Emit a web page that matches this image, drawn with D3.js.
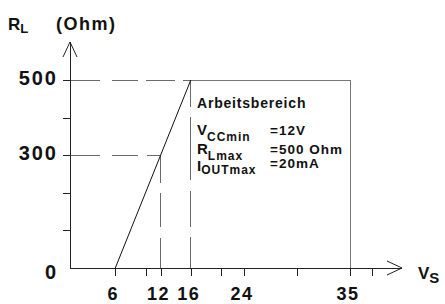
<!DOCTYPE html>
<html>
<head>
<meta charset="utf-8">
<script src="https://cdn.jsdelivr.net/npm/d3@7"></script>
<style>
  body { margin: 0; background: #fff; }
  svg { display: block; font-family: "Liberation Sans", Arial, sans-serif; font-weight: bold; }
</style>
</head>
<body>
<div id="chart"></div>
<script>
// Data
const labeledV = [6, 12, 16, 24, 35];
const minorV = [10, 20, 30, 40];
const labeledR = [300, 500];
const minorR = [100, 200, 400];
const lineV = [6, 12, 16];
const lineR = [0, 300, 500];
const vsMax = 35;
const infoNames = ['V', 'R', 'I'];
const infoSubs = ['CCmin', 'Lmax', 'OUTmax'];
const infoValues = ['=12V', '=500 Ohm', '=20mA'];

const width = 445, height = 304;
const svg = d3.select('#chart').append('svg')
  .attr('width', width).attr('height', height);

// the drawing is not to scale above 20 V, so a piecewise scale
const x = d3.scaleLinear()
  .domain([0, 20, 24, 30, 35, 40])
  .range([70, 221, 244, 297, 350, 372]);
const y = d3.scaleLinear().domain([0, 500]).range([268, 80]);

const axisCol = '#222', dashCol = '#6a6a6a';

// working area box + dashed guides
const g = svg.append('g').attr('shape-rendering', 'crispEdges').attr('fill', 'none');
g.append('path')
  .attr('d', `M${x(16)},${y(500)}H${x(vsMax)}V${y(0)}`)
  .attr('stroke', '#777');
g.append('line')
  .attr('x1', x(0) - 7).attr('x2', x(16)).attr('y1', y(500)).attr('y2', y(500))
  .attr('stroke', dashCol).attr('stroke-dasharray', '37,12,26,8,29,8,9');
g.append('line')
  .attr('x1', x(0) - 7).attr('x2', x(12)).attr('y1', y(300)).attr('y2', y(300))
  .attr('stroke', dashCol).attr('stroke-dasharray', '37,12,26,9,14');
g.append('line')
  .attr('x1', x(12)).attr('x2', x(12)).attr('y1', y(300)).attr('y2', y(0))
  .attr('stroke', dashCol).attr('stroke-dasharray', '28,10,34,11,30');
g.append('line')
  .attr('x1', x(16)).attr('x2', x(16)).attr('y1', y(500)).attr('y2', y(0))
  .attr('stroke', dashCol).attr('stroke-dasharray', '27,10,63,11,36,10,31');

// axes (ticks via d3 axis, lines + arrows drawn)
const xAxis = svg.append('g').attr('transform', `translate(0,${y(0)})`)
  .call(d3.axisBottom(x).tickValues(labeledV.concat(minorV)).tickSize(8).tickFormat(''));
const yAxis = svg.append('g').attr('transform', `translate(${x(0)},0)`)
  .call(d3.axisLeft(y).tickValues(labeledR.concat(minorR)).tickSize(7).tickFormat(''));
[xAxis, yAxis].forEach(a => {
  a.select('.domain').remove();
  a.selectAll('line').attr('stroke', axisCol).attr('shape-rendering', 'crispEdges');
});

const ax = svg.append('g').attr('stroke', axisCol).attr('fill', 'none');
ax.append('path').attr('d', `M${x(0)},${y(0)}H402`).attr('shape-rendering', 'crispEdges');
ax.append('path').attr('d', `M387,${y(0) - 7}L402,${y(0)}L387,${y(0) + 7}`);
ax.append('path').attr('d', `M${x(0)},${y(0)}V42`).attr('shape-rendering', 'crispEdges');
ax.append('path').attr('d', `M${x(0) - 7},57L${x(0)},42L${x(0) + 7},57`);

// R_L over V_S characteristic
svg.append('path')
  .datum(d3.zip(lineV, lineR))
  .attr('d', d3.line().x(d => x(d[0])).y(d => y(d[1])))
  .attr('fill', 'none').attr('stroke', '#111').attr('stroke-width', 1);

// tick labels
svg.append('g').selectAll('text').data(labeledV).join('text')
  .attr('x', d => x(d) - 2).attr('y', 300)
  .attr('text-anchor', 'middle')
  .style('font-size', '18px').style('letter-spacing', '1.5px')
  .attr('fill', '#111').text(d => d);
svg.append('g').selectAll('text').data([0].concat(labeledR)).join('text')
  .attr('x', 58).attr('y', d => y(d) + (d === 0 ? 11 : 5))
  .attr('text-anchor', 'end')
  .style('font-size', '20px').style('letter-spacing', '2px')
  .attr('fill', '#111').text(d => d);

// axis titles
const rl = svg.append('text').attr('x', 8).attr('y', 30).attr('fill', '#111').style('font-size', '17px');
rl.append('tspan').text('R');
rl.append('tspan').attr('dy', 3).style('font-size', '13px').text('L');
svg.append('text').attr('x', 56).attr('y', 30).attr('fill', '#111')
  .style('font-size', '18px').style('letter-spacing', '1.5px').text('(Ohm)');
const vs = svg.append('text').attr('x', 418).attr('y', 279).attr('fill', '#111').style('font-size', '17px');
vs.append('tspan').text('V');
vs.append('tspan').attr('dy', 4).style('font-size', '15px').text('S');

// working area note
svg.append('text').attr('x', 197).attr('y', 108).attr('fill', '#111')
  .style('font-size', '14px').style('letter-spacing', '0.8px').text('Arbeitsbereich');
const rowBase = [135, 154, 171];
const valBase = [135, 154, 168];
infoNames.forEach((n, i) => {
  const t = svg.append('text').attr('x', 197).attr('y', rowBase[i]).attr('fill', '#111')
    .style('font-size', '15px');
  t.append('tspan').text(n);
  t.append('tspan').attr('dy', i === 2 ? 3 : 6).style('font-size', '12px')
    .style('letter-spacing', '1px').text(infoSubs[i]);
  svg.append('text').attr('x', 270).attr('y', valBase[i]).attr('fill', '#111')
    .style('font-size', '13.5px').style('letter-spacing', '1px').text(infoValues[i]);
});
</script>
</body>
</html>
